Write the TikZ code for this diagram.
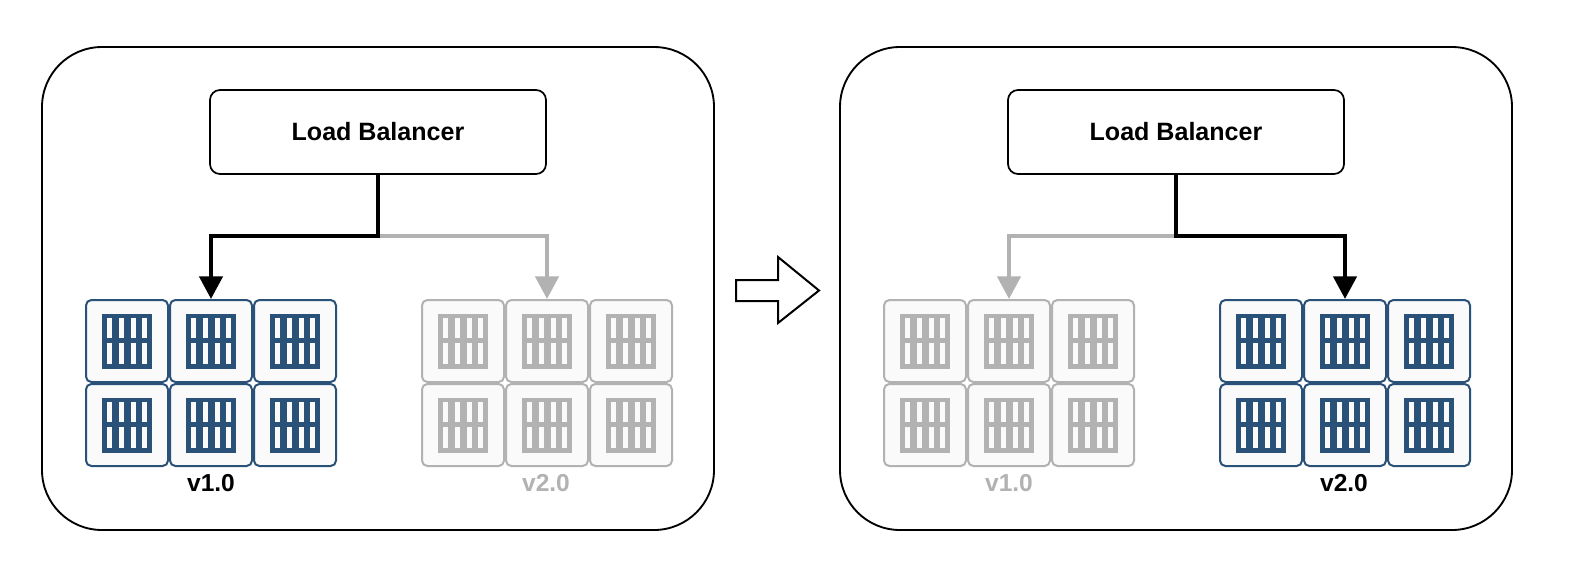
\documentclass[tikz,border=0pt]{standalone}
\usepackage{fontspec}
\setmainfont{Liberation Sans}
\usetikzlibrary{arrows.meta}
\definecolor{blu}{HTML}{2A5178}
\definecolor{gry}{HTML}{B2B2B2}
\definecolor{tilefill}{HTML}{FAFAFA}
\tikzset{
  x=0.75pt,y=-0.75pt,
  panel/.style={draw=black,line width=1.4pt,rounded corners=45pt,minimum width=504pt,minimum height=362.25pt,inner sep=0pt},
  lbbox/.style={draw=black,line width=1.3pt,rounded corners=7.5pt,minimum width=252pt,minimum height=63pt,inner sep=0pt,font=\bfseries\fontsize{18.8pt}{22pt}\selectfont},
  tile/.style={draw=#1,fill=tilefill,line width=1.5pt,rounded corners=4pt,minimum width=61.5pt,minimum height=61.5pt,inner sep=0pt},
  tag/.style={text=#1,inner sep=0pt,font=\bfseries\fontsize{18.4pt}{22pt}\selectfont},
  heavy/.style={draw=black,line width=3.3pt,-{Triangle[length=17pt,width=17.25pt]}},
  faint/.style={draw=gry,line width=3.3pt,-{Triangle[length=17pt,width=17.25pt]}},
  bigarrow/.style={draw=black,line width=1.5pt,miter limit=10},
}
% \tilegrid{prefix}{left x}{colour}: six tiles with their container icons
\newcommand{\tilegrid}[3]{%
  \foreach \r/\ry in {1/341,2/425}{
    \foreach \c/\cx in {1/42,2/126,3/210}{
      \node[tile=#3] (#1\r\c) at ({#2+\cx},\ry) {};
      \fill[#3] ({#2+\cx-24.7},{\ry-27.3}) rectangle ({#2+\cx+24.7},{\ry+27.7});
      \foreach \s in {0,1,2,3}{
        \fill[tilefill] ({#2+\cx-19.7+11.7*\s},{\ry-22.7}) rectangle +(5,19.6);
        \fill[tilefill] ({#2+\cx-19.7+11.7*\s},{\ry+2.3}) rectangle +(5,20.7);
      }
    }
  }
}
% \deployment{prefix}{x offset}
\newcommand{\deployment}[2]{%
  \node[panel] (#1panel) at ({#2+378},288.5) {};
  \node[lbbox] (#1lb) at ({#2+378},132) {Load Balancer};
  \coordinate (#1j) at ({#2+378},236);
}
\begin{document}
\begin{tikzpicture}
\useasboundingbox (0,0) rectangle (1576,586);
\fill[white] (0,0) rectangle (1576,586);
% left
\deployment{a}{0}
\tilegrid{av}{85}{blu}
\tilegrid{bv}{421}{gry}
\node[tag=black] (atag) at (211,483) {v1.0};
\node[tag=gry] (btag) at (546,483) {v2.0};
\draw[faint] (aj) -| (bv12.north);
\draw[heavy] (alb.south) -- (aj) -| (av12.north);
% right
\deployment{c}{798}
\tilegrid{cv}{883}{gry}
\tilegrid{dv}{1219}{blu}
\node[tag=gry] (ctag) at (1009,483) {v1.0};
\node[tag=black] (dtag) at (1344,483) {v2.0};
\draw[faint] (cj) -| (cv12.north);
\draw[heavy] (clb.south) -- (cj) -| (dv12.north);
% arrow between
\draw[bigarrow] (736,280) -- (778,280) -- (778,257) -- (819,290.5) -- (778,323) -- (778,301) -- (736,301) -- cycle;
\end{tikzpicture}
\end{document}
